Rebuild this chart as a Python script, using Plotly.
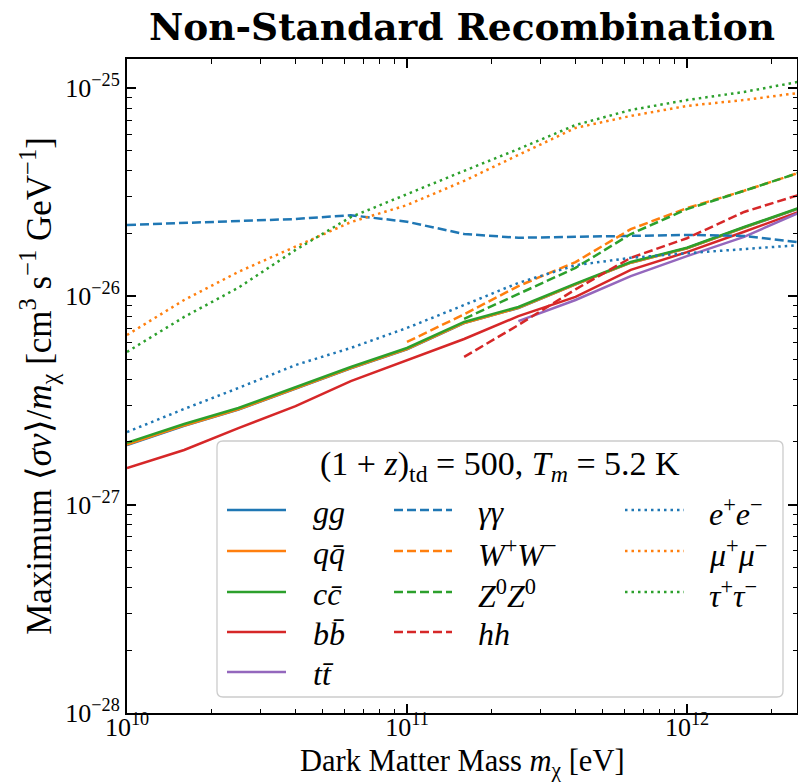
import plotly.graph_objects as go

# ---------------- data ----------------
mass_eV = [1.0e10, 1.6e10, 2.5e10, 4.0e10, 6.3e10, 1.0e11, 1.6e11,
           2.5e11, 4.0e11, 6.3e11, 1.0e12, 1.6e12, 2.5e12]

gg = [1.93e-27, 2.39e-27, 2.86e-27, 3.61e-27, 4.51e-27, 5.57e-27, 7.44e-27,
      8.79e-27, 1.14e-26, 1.45e-26, 1.70e-26, 2.14e-26, 2.63e-26]
qq = [1.94e-27, 2.40e-27, 2.87e-27, 3.62e-27, 4.52e-27, 5.58e-27, 7.45e-27,
      8.80e-27, 1.14e-26, 1.45e-26, 1.70e-26, 2.14e-26, 2.64e-26]
cc = [1.98e-27, 2.44e-27, 2.91e-27, 3.67e-27, 4.58e-27, 5.65e-27, 7.53e-27,
      8.89e-27, 1.15e-26, 1.46e-26, 1.71e-26, 2.15e-26, 2.65e-26]
bb = [1.50e-27, 1.83e-27, 2.33e-27, 2.97e-27, 3.92e-27, 4.94e-27, 6.24e-27,
      8.03e-27, 9.93e-27, 1.34e-26, 1.63e-26, 2.04e-26, 2.54e-26]
tt = [None, None, None, None, None, None, None,
      7.6e-27, 9.6e-27, 1.25e-26, 1.56e-26, 1.93e-26, 2.51e-26]
gamgam = [2.20e-26, 2.25e-26, 2.28e-26, 2.35e-26, 2.45e-26, 2.28e-26, 1.99e-26,
          1.91e-26, 1.93e-26, 1.95e-26, 1.97e-26, 1.95e-26, 1.82e-26]
WW = [None, None, None, None, None, 6.04e-27, 8.2e-27,
      1.12e-26, 1.46e-26, 2.10e-26, 2.65e-26, 3.21e-26, 3.91e-26]
ZZ = [None, None, None, None, None, None, 7.8e-27,
      1.03e-26, 1.37e-26, 1.99e-26, 2.62e-26, 3.21e-26, 3.91e-26]
hh = [None, None, None, None, None, None, 5.12e-27,
      7.28e-27, 1.08e-26, 1.53e-26, 1.90e-26, 2.54e-26, 3.06e-26]
ee = [2.23e-27, 2.88e-27, 3.63e-27, 4.68e-27, 5.65e-27, 7.05e-27, 9.08e-27,
      1.16e-26, 1.41e-26, 1.53e-26, 1.61e-26, 1.69e-26, 1.76e-26]
mumu = [6.52e-27, 9.6e-27, 1.31e-26, 1.73e-26, 2.27e-26, 2.74e-26, 3.58e-26,
        4.77e-26, 6.43e-26, 7.34e-26, 8.2e-26, 8.75e-26, 9.46e-26]
tautau = [5.41e-27, 7.96e-27, 1.10e-26, 1.67e-26, 2.40e-26, 3.10e-26, 4.0e-26,
          5.09e-26, 6.64e-26, 7.84e-26, 8.75e-26, 9.57e-26, 1.07e-25]

labels = ["<i>gg</i>", "<i>qq̄</i>", "<i>cc̄</i>", "<i>bb̄</i>", "<i>tt̄</i>",
          "<i>γγ</i>", "<i>W</i><sup>+</sup><i>W</i><sup>−</sup>",
          "<i>Z</i><sup>0</sup><i>Z</i><sup>0</sup>", "<i>hh</i>",
          "<i>e</i><sup>+</sup><i>e</i><sup>−</sup>",
          "<i>μ</i><sup>+</sup><i>μ</i><sup>−</sup>",
          "<i>τ</i><sup>+</sup><i>τ</i><sup>−</sup>"]
series = [gg, qq, cc, bb, tt, gamgam, WW, ZZ, hh, ee, mumu, tautau]

y_tickvals = [1e-28, 1e-27, 1e-26, 1e-25]
y_ticktext = ["10<sup>−28</sup>", "10<sup>−27</sup>", "10<sup>−26</sup>", "10<sup>−25</sup>"]
x_tickvals = [1e10, 1e11, 1e12]
x_ticktext = ["10<sup>10</sup>", "10<sup>11</sup>", "10<sup>12</sup>"]

# ---------------- styles ----------------
BLUE, ORANGE, GREEN, RED, PURPLE = "#1f77b4", "#ff7f0e", "#2ca02c", "#d62728", "#9467bd"
DASH = "9px,4px"
DOT = "2.5px,4px"
styles = [(BLUE, "solid"), (ORANGE, "solid"), (GREEN, "solid"), (RED, "solid"), (PURPLE, "solid"),
          (BLUE, DASH), (ORANGE, DASH), (GREEN, DASH), (RED, DASH),
          (BLUE, DOT), (ORANGE, DOT), (GREEN, DOT)]
LW = 2.5
FONT = "Liberation Serif"

fig = go.Figure()
for vals, lab, (col, dash) in zip(series, labels, styles):
    fig.add_trace(go.Scatter(x=mass_eV, y=vals, mode="lines", name=lab,
                             line=dict(color=col, dash=dash, width=LW),
                             connectgaps=False, showlegend=False))

# ---------------- layout geometry ----------------
W, H = 798, 782
L, R, T, B = 127, 1, 59, 69
pw, ph = W - L - R, H - T - B


def px(xp):
    return (xp - L) / pw


def py(yp):
    return (H - B - yp) / ph


minor_x = [m * 10 ** e for e in range(10, 13) for m in range(2, 10)]
minor_y = [m * 10.0 ** e for e in range(-28, -24) for m in range(2, 10)]

axis_common = dict(type="log", showline=True, linecolor="black", linewidth=2,
                   mirror="allticks", ticks="inside", ticklen=9, tickwidth=1.6,
                   tickcolor="black", showgrid=False, zeroline=False, automargin=False,
                   tickfont=dict(family=FONT, size=26, color="black"))

fig.update_layout(
    width=W, height=H,
    margin=dict(l=L, r=R, t=T, b=B, pad=0, autoexpand=False),
    paper_bgcolor="white", plot_bgcolor="white",
    font=dict(family=FONT, color="black"),
    title=dict(text="<b>Non-Standard Recombination</b>", xref="paper", x=px(462),
               xanchor="center", y=1 - 27 / H, yanchor="middle", automargin=False,
               font=dict(family="DejaVu Serif", size=37.5, color="black")),
    xaxis=dict(axis_common, range=[10, 12.393], tickvals=x_tickvals, ticktext=x_ticktext,
               ticklabelstandoff=-10,
               minor=dict(ticks="inside", ticklen=4.5, tickwidth=1.2, tickcolor="black",
                          tickvals=minor_x, showgrid=False)),
    yaxis=dict(axis_common, range=[-28, -24.861], tickvals=y_tickvals, ticktext=y_ticktext,
               minor=dict(ticks="inside", ticklen=4.5, tickwidth=1.2, tickcolor="black",
                          tickvals=minor_y, showgrid=False),
               title=dict(text="Maximum ⟨<i>σv</i>⟩/<i>m</i><sub>χ</sub> [cm<sup>3</sup> s<sup>−1</sup> GeV<sup>−1</sup>]",
                          standoff=3, font=dict(family=FONT, size=35, color="black"))),
)

# x-axis title as an annotation for exact placement
fig.add_annotation(text="Dark Matter Mass <i>m</i><sub>χ</sub> [eV]",
                   x=px(462), y=py(763), xref="paper", yref="paper",
                   xanchor="center", yanchor="middle", showarrow=False,
                   font=dict(family=FONT, size=30.5, color="black"))

# ---------------- manual legend (3 columns) ----------------
bx0, bx1, by0, by1 = px(217), px(783), py(697), py(441)
rx, ry = 6 / pw, 6 / ph
path = (f"M {bx0+rx},{by0} L {bx1-rx},{by0} Q {bx1},{by0} {bx1},{by0+ry} "
        f"L {bx1},{by1-ry} Q {bx1},{by1} {bx1-rx},{by1} "
        f"L {bx0+rx},{by1} Q {bx0},{by1} {bx0},{by1-ry} "
        f"L {bx0},{by0+ry} Q {bx0},{by0} {bx0+rx},{by0} Z")
fig.add_shape(type="path", path=path, xref="paper", yref="paper",
              line=dict(color="#cccccc", width=1.3), fillcolor="rgba(255,255,255,0.85)",
              layer="above")

fig.add_annotation(text="(1 + <i>z</i>)<sub>td</sub> = 500, <i>T<sub>m</sub></i> = 5.2 K",
                   x=px(500), y=py(466), xref="paper", yref="paper",
                   xanchor="center", yanchor="middle", showarrow=False,
                   font=dict(family=FONT, size=34, color="black"))

row_y = [510, 551, 592, 632, 672]
cols = [(227, 286, 311, [0, 1, 2, 3, 4]),
        (394, 452, 476, [5, 6, 7, 8]),
        (625, 684, 707, [9, 10, 11])]
for x0, x1, xt, idxs in cols:
    for r, i in enumerate(idxs):
        col, dash = styles[i]
        fig.add_shape(type="line", xref="paper", yref="paper",
                      x0=px(x0), x1=px(x1), y0=py(row_y[r]), y1=py(row_y[r]),
                      line=dict(color=col, dash=dash, width=LW), layer="above")
        fig.add_annotation(text=labels[i], x=px(xt), y=py(row_y[r] + 2),
                           xref="paper", yref="paper", xanchor="left", yanchor="middle",
                           showarrow=False, font=dict(family=FONT, size=32, color="black"))

fig.write_html("out.html")
